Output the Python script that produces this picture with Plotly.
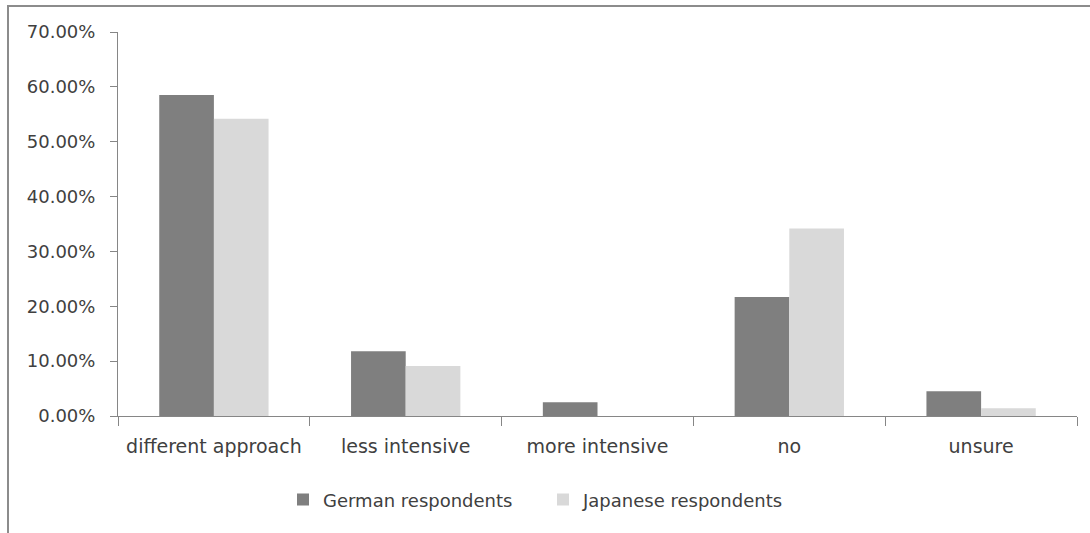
import plotly.graph_objects as go

categories = ["different approach", "less intensive", "more intensive", "no", "unsure"]
german = [0.585, 0.118, 0.025, 0.217, 0.045]
japanese = [0.542, 0.091, 0.0, 0.342, 0.014]
series_names = ["German respondents", "Japanese respondents"]
y_ticks = [0.0, 0.1, 0.2, 0.3, 0.4, 0.5, 0.6, 0.7]

axis_color = "#868686"
text_color = "#404040"
font_family = "DejaVu Sans, Verdana, sans-serif"

fig = go.Figure()
fig.add_trace(go.Bar(x=categories, y=german, name=series_names[0],
                     marker=dict(color="#7f7f7f", line=dict(width=0))))
fig.add_trace(go.Bar(x=categories, y=japanese, name=series_names[1],
                     marker=dict(color="#d9d9d9", line=dict(width=0))))

fig.update_layout(
    width=1090, height=533,
    margin=dict(l=118, r=13, t=32, b=117, autoexpand=False),
    paper_bgcolor="white", plot_bgcolor="white",
    barmode="group", bargap=0.43, bargroupgap=0,
    font=dict(family=font_family, size=18, color=text_color),
    legend=dict(orientation="h", x=(283 - 118) / 959, xanchor="left",
                y=-0.17, yanchor="top", entrywidth=215, entrywidthmode="pixels",
                font=dict(size=18, color=text_color), itemwidth=30,
                traceorder="normal"),
    showlegend=True,
)

fig.update_xaxes(
    showline=True, linecolor=axis_color, linewidth=1,
    ticks="outside", tickson="boundaries", ticklen=9, tickcolor=axis_color,
    ticklabelstandoff=13, tickangle=0,
    showgrid=False, tickfont=dict(size=19, color=text_color),
)
fig.update_yaxes(
    range=[0, 0.7], tickvals=y_ticks, tickformat=".2%",
    showline=True, linecolor=axis_color, linewidth=1,
    ticks="outside", ticklen=7, tickcolor=axis_color,
    ticklabelstandoff=11,
    showgrid=False, zeroline=False, tickfont=dict(size=18, color=text_color),
)

# outer chart frame (right and bottom edges fall outside the page)
fig.add_shape(type="rect", xref="paper", yref="paper",
              x0=-110 / 959, x1=1100 / 959, y0=-130 / 384, y1=(384 + 26) / 384,
              line=dict(color="#8c8c8c", width=2), layer="below")

fig.write_html("out.html")
